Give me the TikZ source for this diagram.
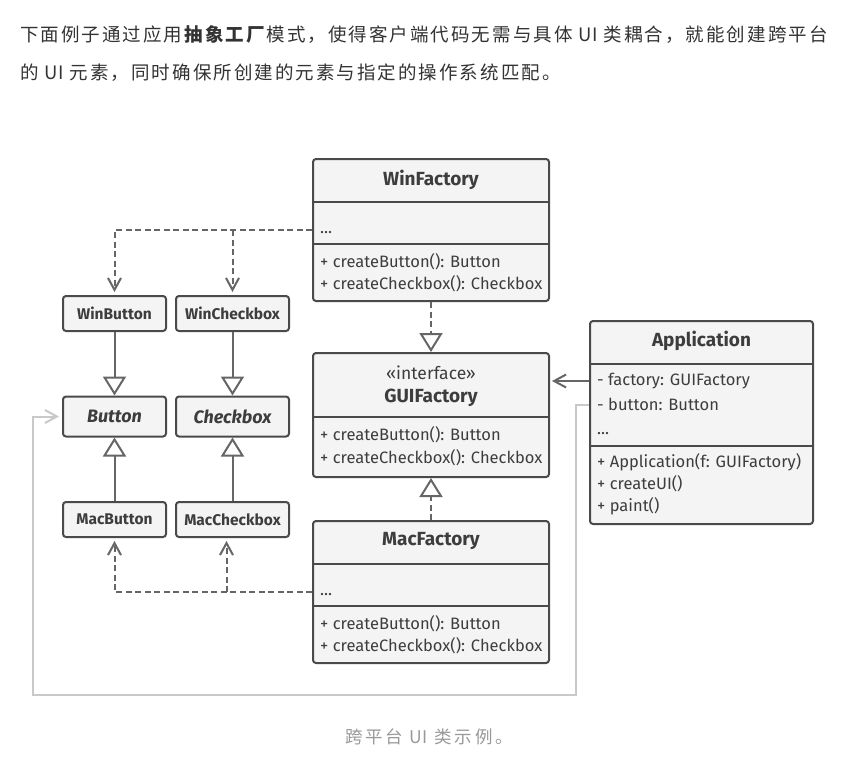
\documentclass[tikz,border=0pt]{standalone}
\usepackage{fontspec}
\setmainfont{Fira Sans}
\newfontfamily\cjk{Noto Sans CJK SC}[LetterSpace=11]
\newfontfamily\cjknl{Noto Sans CJK SC}
\newfontfamily\cjkcap{Noto Sans CJK SC}[LetterSpace=16]
\usetikzlibrary{arrows.meta}
\definecolor{boxc}{HTML}{4A4A4A}
\definecolor{boxf}{HTML}{F4F4F4}
\definecolor{txt}{HTML}{3D3D3D}
\definecolor{lnc}{HTML}{666666}
\definecolor{lgray}{HTML}{C9C9C9}
\definecolor{headc}{HTML}{333333}
\definecolor{capc}{HTML}{999999}
\begin{document}
\begin{tikzpicture}[x=1pt,y=-1pt,
  umlbox/.style={draw=boxc, fill=boxf, line width=2pt, rounded corners=3pt, inner sep=0pt},
  divline/.style={draw=boxc, line width=2pt},
  umltitle/.style={font=\fontsize{19}{21}\selectfont\bfseries, text=txt, inner sep=0pt},
  member/.style={font=\fontsize{16.5}{18}\selectfont, text=txt, anchor=west, inner sep=0pt},
  dots/.style={font=\fontsize{16.5}{18}\selectfont, text=txt, anchor=base west, inner sep=0pt},
  smallbox/.style={umlbox, font=\fontsize{15.5}{17}\selectfont\bfseries, text=txt},
  dep/.style={draw=lnc, line width=2pt, dash pattern=on 6pt off 3.5pt,
     -{Straight Barb[length=12pt,width=13pt]}},
  assoc/.style={draw=lnc, line width=2pt, -{Straight Barb[length=12pt,width=13pt]}},
  ref/.style={draw=lgray, line width=2pt, -{Straight Barb[length=12pt,width=13pt]}},
  inh/.style={draw=lnc, line width=2pt, -{Triangle[open,length=19pt,width=23pt]}},
  impl/.style={draw=lnc, line width=2pt, dash pattern=on 6pt off 3.5pt,
     -{Triangle[open,length=19pt,width=23pt]}},
]
\useasboundingbox (0,0) rectangle (868,756);
\fill[white] (0,0) rectangle (868,756);

% header text
\node[anchor=base west, inner sep=0pt, text=headc, font=\cjk\fontsize{18.5}{20}\selectfont] (h1) at (20,41)
  {下面例子通过应用\textbf{抽象工厂}模式，使得客户端代码无需与具体 {\cjknl UI} 类耦合，就能创建跨平台};
\node[anchor=base west, inner sep=0pt, text=headc, font=\cjk\fontsize{18.5}{20}\selectfont] (h2) at (20,79)
  {的 {\cjknl UI} 元素，同时确保所创建的元素与指定的操作系统匹配。};

% WinFactory
\node[umlbox, minimum width=236pt, minimum height=142pt] (winf) at (431,230) {};
\draw[divline] (313,202) -- (549,202);
\draw[divline] (313,244) -- (549,244);
\node[umltitle] (winft) at (431,180) {WinFactory};
\node[dots] (winfa) at (320,233) {...};
\node[member] (winfm1) at (320,262) {+ createButton(): Button};
\node[member] (winfm2) at (320,284) {+ createCheckbox(): Checkbox};

% GUIFactory
\node[umlbox, minimum width=236pt, minimum height=124pt] (guif) at (431,415) {};
\draw[divline] (313,417) -- (549,417);
\node[inner sep=0pt, text=txt, font=\fontsize{17.5}{19}\selectfont] (guis) at (431,373) {«interface»};
\node[umltitle] (guit) at (431,398) {GUIFactory};
\node[member] (guim1) at (320,435) {+ createButton(): Button};
\node[member] (guim2) at (320,458) {+ createCheckbox(): Checkbox};

% MacFactory
\node[umlbox, minimum width=236pt, minimum height=142pt] (macf) at (431,592) {};
\draw[divline] (313,564) -- (549,564);
\draw[divline] (313,606) -- (549,606);
\node[umltitle] (macft) at (431,541) {MacFactory};
\node[dots] (macfa) at (320,595) {...};
\node[member] (macfm1) at (320,624) {+ createButton(): Button};
\node[member] (macfm2) at (320,646) {+ createCheckbox(): Checkbox};

% Application
\node[umlbox, minimum width=223pt, minimum height=203pt] (app) at (701.5,422.5) {};
\draw[divline] (590,364) -- (813,364);
\draw[divline] (590,446) -- (813,446);
\node[umltitle] (appt) at (701.5,341) {Application};
\node[member] (appa1) at (597,381) {- factory: GUIFactory};
\node[member] (appa2) at (597,404) {- button: Button};
\node[dots] (appa3) at (597,434) {...};
\node[member] (appm1) at (597,462) {+ Application(f: GUIFactory)};
\node[member] (appm2) at (597,484) {+ createUI()};
\node[member] (appm3) at (597,506) {+ paint()};

% small boxes
\node[smallbox, minimum width=103pt, minimum height=35pt] (winbtn) at (114.5,313.5) {WinButton};
\node[smallbox, minimum width=113pt, minimum height=35pt] (wincb) at (232.5,313.5) {WinCheckbox};
\node[umlbox, minimum width=103pt, minimum height=40pt, text=txt,
      font=\fontsize{18}{20}\selectfont\bfseries\itshape] (btn) at (114.5,416.5) {Button};
\node[umlbox, minimum width=113pt, minimum height=40pt, text=txt,
      font=\fontsize{18}{20}\selectfont\bfseries\itshape] (cb) at (232.5,416.5) {Checkbox};
\node[smallbox, minimum width=103pt, minimum height=35pt] (macbtn) at (114.5,519.5) {MacButton};
\node[smallbox, minimum width=113pt, minimum height=35pt] (maccb) at (232.5,519.5) {MacCheckbox};

% connectors
\draw[dep] (winf.west) -| ([yshift=3pt]winbtn.north);
\draw[dep] (wincb.north |- winf.west) -- ([yshift=3pt]wincb.north);
\draw[dep] (macf.west) -| ([yshift=-3pt]macbtn.south);
\draw[dep] ([xshift=-6pt]maccb.south |- macf.west) -- ([xshift=-6pt,yshift=-3pt]maccb.south);

\draw[inh] (winbtn.south) -- (btn.north);
\draw[inh] (wincb.south) -- (cb.north);
\draw[inh] (macbtn.north) -- (btn.south);
\draw[inh] (maccb.north) -- (cb.south);

\draw[impl] (winf.south) -- (guif.north);
\draw[impl] (macf.north) -- (guif.south);

\draw[assoc] ([yshift=41.5pt]app.west) -- ([yshift=41.5pt,xshift=2pt]app.west -| guif.east);

\coordinate (g1) at (576,695);
\coordinate (g2) at (33,695);
\draw[ref] ([yshift=18pt]app.west) -| (g1) -- (g2) |- ([xshift=-3pt]btn.west);

% caption
\node[inner sep=0pt, text=capc, font=\cjkcap\fontsize{17.5}{18}\selectfont] (cap) at (429,737) {跨平台 {\cjknl UI} 类示例。};
\end{tikzpicture}
\end{document}
